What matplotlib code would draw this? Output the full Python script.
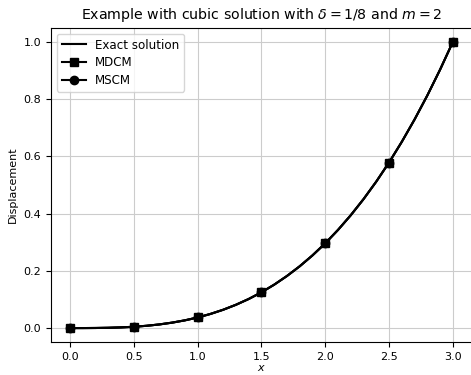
import matplotlib
matplotlib.use("Agg")
import matplotlib.pyplot as plt

x_exact = [0.0, 0.1, 0.2, 0.3, 0.4, 0.5, 0.6, 0.7, 0.8, 0.9, 1.0,
           1.1, 1.2, 1.3, 1.4, 1.5, 1.6, 1.7, 1.8, 1.9, 2.0,
           2.1, 2.2, 2.3, 2.4, 2.5, 2.6, 2.7, 2.8, 2.9, 3.0]
u_exact = [0.0, 0.00004, 0.0003, 0.001, 0.0024, 0.0046, 0.008, 0.0127, 0.019, 0.027, 0.037,
           0.0493, 0.064, 0.0814, 0.1016, 0.125, 0.1517, 0.182, 0.216, 0.254, 0.2963,
           0.343, 0.3944, 0.4506, 0.512, 0.5787, 0.651, 0.729, 0.813, 0.9033, 1.0]

# numerical solutions (read as coinciding with exact curve); nodes every 0.5
u_mdcm = list(u_exact)
u_mscm = list(u_exact)
node_step = 5

fig, ax = plt.subplots(figsize=(4.71, 3.75), dpi=100)
ax.plot(x_exact, u_exact, color="black", label="Exact solution", zorder=3)
ax.plot(x_exact, u_mdcm, color="black", marker="s", markevery=node_step,
        label="MDCM", zorder=4)
ax.plot(x_exact, u_mscm, color="black", marker="o", markevery=node_step,
        label="MSCM", zorder=2)
ax.set_xlabel("$x$", fontsize=8, labelpad=1)
ax.set_ylabel("Displacement", fontsize=8)
ax.set_title(r"Example with cubic solution with $\delta = 1/8$ and $m = 2$", fontsize=10.2)
ax.tick_params(labelsize=8)
ax.grid(True, color="#cccccc")
ax.legend(fontsize=8.6, loc="upper left", labelspacing=0.4)
fig.subplots_adjust(left=0.108, right=1.002, top=0.926, bottom=0.087)
fig.savefig("out.png", dpi=100)
